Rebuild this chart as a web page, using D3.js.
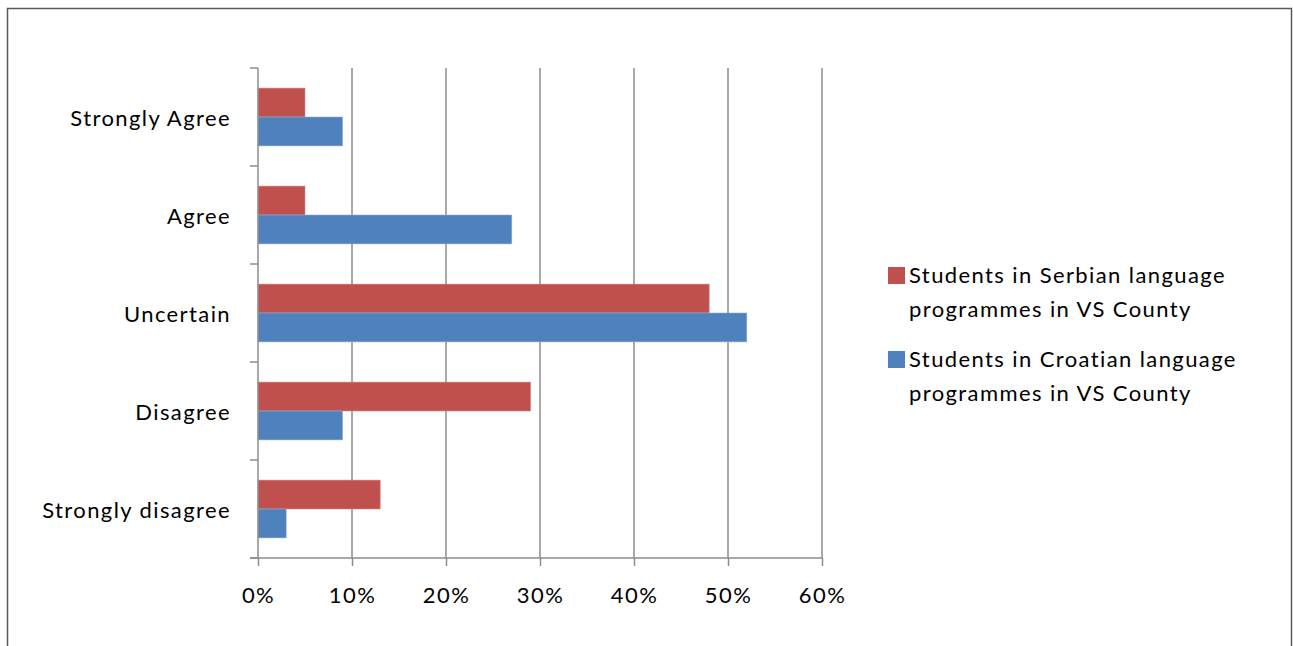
<!DOCTYPE html>
<html>
<head>
<meta charset="utf-8">
<script src="https://cdn.jsdelivr.net/npm/d3@7/dist/d3.min.js"></script>
<style>
  html, body { margin: 0; padding: 0; background: #fff; }
  svg { display: block; }
  text { font-family: Lato, "Open Sans", sans-serif; fill: #000; letter-spacing: 1.4px; }
</style>
</head>
<body>
<svg id="chart" width="1293" height="646"></svg>
<script>
// Survey responses, top to bottom
const categories = ["Strongly Agree", "Agree", "Uncertain", "Disagree", "Strongly disagree"];
const serbian = [5, 5, 48, 29, 13];
const croatian = [9, 27, 52, 9, 3];
const seriesNames = [
  ["Students in Serbian language", "programmes in VS County"],
  ["Students in Croatian language", "programmes in VS County"]
];
const xTicks = [0, 10, 20, 30, 40, 50, 60];

const colors = ["#c0504d", "#4f81bd"];
const series = [serbian, croatian];
const fontSize = 22;

const svg = d3.select("#chart");

// outer chart frame
svg.append("rect")
  .attr("x", 7.5).attr("y", 8.5)
  .attr("width", 1284).attr("height", 660)
  .attr("fill", "none").attr("stroke", "#595959").attr("stroke-width", 1.5);

const plotLeft = 258, plotRight = 822, plotTop = 68, plotBottom = 558;

const x = d3.scaleLinear().domain([0, 60]).range([plotLeft, plotRight]);
const y = d3.scaleBand().domain(categories).range([plotTop, plotBottom]).paddingInner(0.41).paddingOuter(0.205);
const sub = d3.scaleBand().domain([0, 1]).range([0, y.bandwidth()]);

// vertical gridlines
svg.append("g").selectAll("line").data(xTicks.slice(1)).join("line")
  .attr("x1", d => x(d)).attr("x2", d => x(d))
  .attr("y1", plotTop).attr("y2", plotBottom)
  .attr("stroke", "#8c8c8c").attr("stroke-width", 1.5);

// bars
categories.forEach((c, i) => {
  series.forEach((s, k) => {
    svg.append("rect")
      .attr("x", x(0))
      .attr("y", y(c) + sub(k))
      .attr("width", x(s[i]) - x(0))
      .attr("height", sub.bandwidth())
      .attr("fill", colors[k])
      .attr("stroke", k === 0 ? "#d88a88" : "#8fb0da")
      .attr("stroke-width", 0.6);
  });
});

// x axis
const xAxis = svg.append("g")
  .attr("transform", `translate(0,${plotBottom})`)
  .call(d3.axisBottom(x).tickValues(xTicks).tickFormat(d => d + "%").tickSize(8));
xAxis.select(".domain").attr("stroke", "#8c8c8c").attr("stroke-width", 1.5)
  .attr("d", `M${plotLeft - 8},0H${plotRight}`);
xAxis.selectAll(".tick line").attr("stroke", "#8c8c8c").attr("stroke-width", 1.5);
xAxis.selectAll(".tick text")
  .attr("y", 45).attr("dy", null)
  .attr("font-size", fontSize).attr("font-family", "Lato, sans-serif")
  .style("letter-spacing", "1.4px").attr("fill", "#000");

// y axis with ticks at band boundaries
const boundaries = d3.range(categories.length + 1).map(i => plotTop + i * (plotBottom - plotTop) / categories.length);
svg.append("line")
  .attr("x1", plotLeft).attr("x2", plotLeft).attr("y1", plotTop).attr("y2", plotBottom)
  .attr("stroke", "#8c8c8c").attr("stroke-width", 1.5);
svg.append("g").selectAll("line").data(boundaries).join("line")
  .attr("x1", plotLeft - 8).attr("x2", plotLeft)
  .attr("y1", d => d).attr("y2", d => d)
  .attr("stroke", "#8c8c8c").attr("stroke-width", 1.5);

svg.append("g").selectAll("text").data(categories).join("text")
  .attr("x", 231)
  .attr("y", d => y(d) + y.bandwidth() / 2 + 9)
  .attr("text-anchor", "end")
  .attr("font-size", fontSize)
  .text(d => d);

// legend
const legendBase = [283, 367];
seriesNames.forEach((lines, k) => {
  const g = svg.append("g");
  g.append("rect")
    .attr("x", 888).attr("y", legendBase[k] - 16)
    .attr("width", 17).attr("height", 17)
    .attr("fill", colors[k]);
  lines.forEach((t, j) => {
    g.append("text")
      .attr("x", 909)
      .attr("y", legendBase[k] + j * 33.5)
      .attr("font-size", fontSize)
      .text(t);
  });
});
</script>
</body>
</html>
